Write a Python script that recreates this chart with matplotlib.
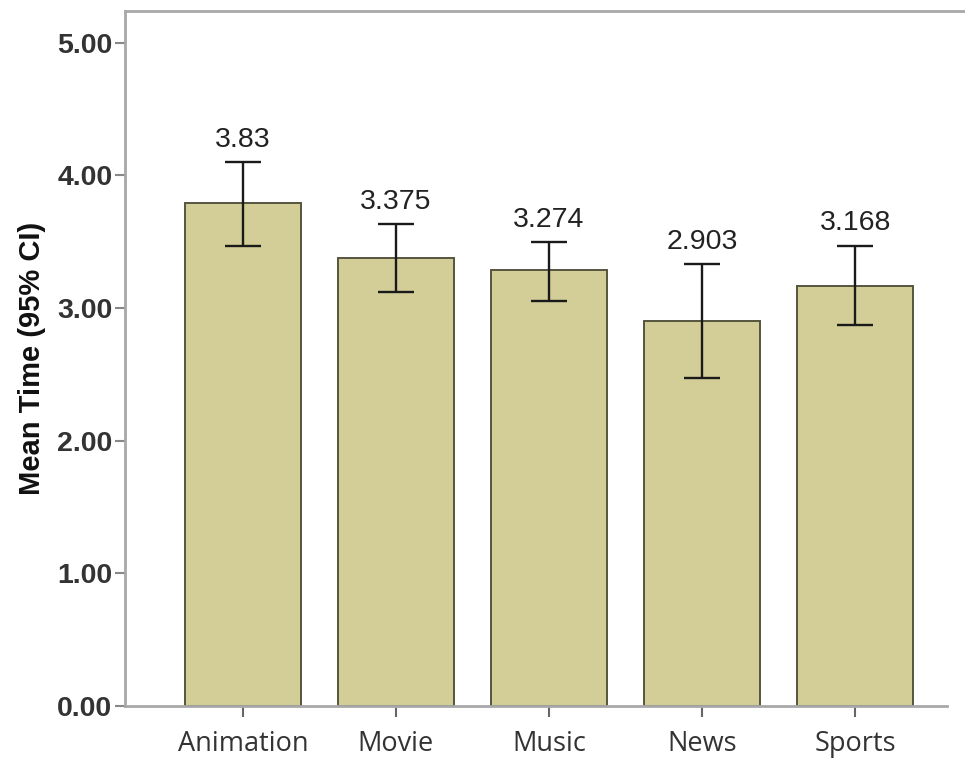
import matplotlib
matplotlib.use("Agg")
import matplotlib.pyplot as plt
from matplotlib.lines import Line2D

categories = ["Animation", "Movie", "Music", "News", "Sports"]
means = [3.79, 3.378, 3.285, 2.90, 3.168]
labels = ["3.83", "3.375", "3.274", "2.903", "3.168"]
ci_low = [3.47, 3.12, 3.05, 2.47, 2.87]
ci_high = [4.10, 3.635, 3.50, 3.33, 3.47]
yticks = [0, 1, 2, 3, 4, 5]
ytick_labels = ["0.00", "1.00", "2.00", "3.00", "4.00", "5.00"]

W, H = 965, 760
fig = plt.figure(figsize=(W / 100, H / 100), dpi=100)
left, right, top, bottom = 125, 947, 11, 706
ax = fig.add_axes([left / W, 1 - bottom / H, (right - left) / W, (bottom - top) / H])

x = list(range(len(categories)))
ax.bar(x, means, width=0.76, color="#D3CE98", edgecolor="#55553F", linewidth=1.4, zorder=2)
yerr = [[m - l for m, l in zip(means, ci_low)], [h - m for m, h in zip(means, ci_high)]]
ax.errorbar(x, means, yerr=yerr, fmt="none", ecolor="#1a1a1a", elinewidth=1.7,
            capsize=13, capthick=1.7, zorder=3)

for xi, hi, lab in zip(x, ci_high, labels):
    ax.annotate(lab, (xi, hi), xytext=(0, 11), textcoords="offset points",
                ha="center", va="baseline", fontsize=20.5, color="#222222",
                family="Liberation Sans")

ax.set_xlim(-0.77, 4.6)
ax.set_ylim(0, 5.24)
ax.set_yticks(yticks)
ax.set_yticklabels(ytick_labels, fontsize=20.5, fontweight="bold", color="#333333",
                   family="Liberation Sans")
ax.set_xticks(x)
ax.set_xticklabels(categories, fontsize=19.5, color="#333333", family="Open Sans")
ax.tick_params(axis="y", length=7, width=1.5, color="#888888", pad=2)
ax.tick_params(axis="x", length=8, width=1.5, color="#666666", pad=9)

ax.set_ylabel("Mean Time (95% CI)", fontsize=21, fontweight="bold", color="#111111",
              family="Liberation Sans", labelpad=8)

for s in ["left", "bottom", "top"]:
    ax.spines[s].set_color("#A8A8A8")
    ax.spines[s].set_linewidth(2)
ax.spines["right"].set_visible(False)
ax.spines["top"].set_visible(False)
fig.add_artist(Line2D([left / W, 1.0], [1 - top / H, 1 - top / H],
                      color="#A8A8A8", linewidth=2, transform=fig.transFigure))

fig.savefig("out.png", dpi=100)
